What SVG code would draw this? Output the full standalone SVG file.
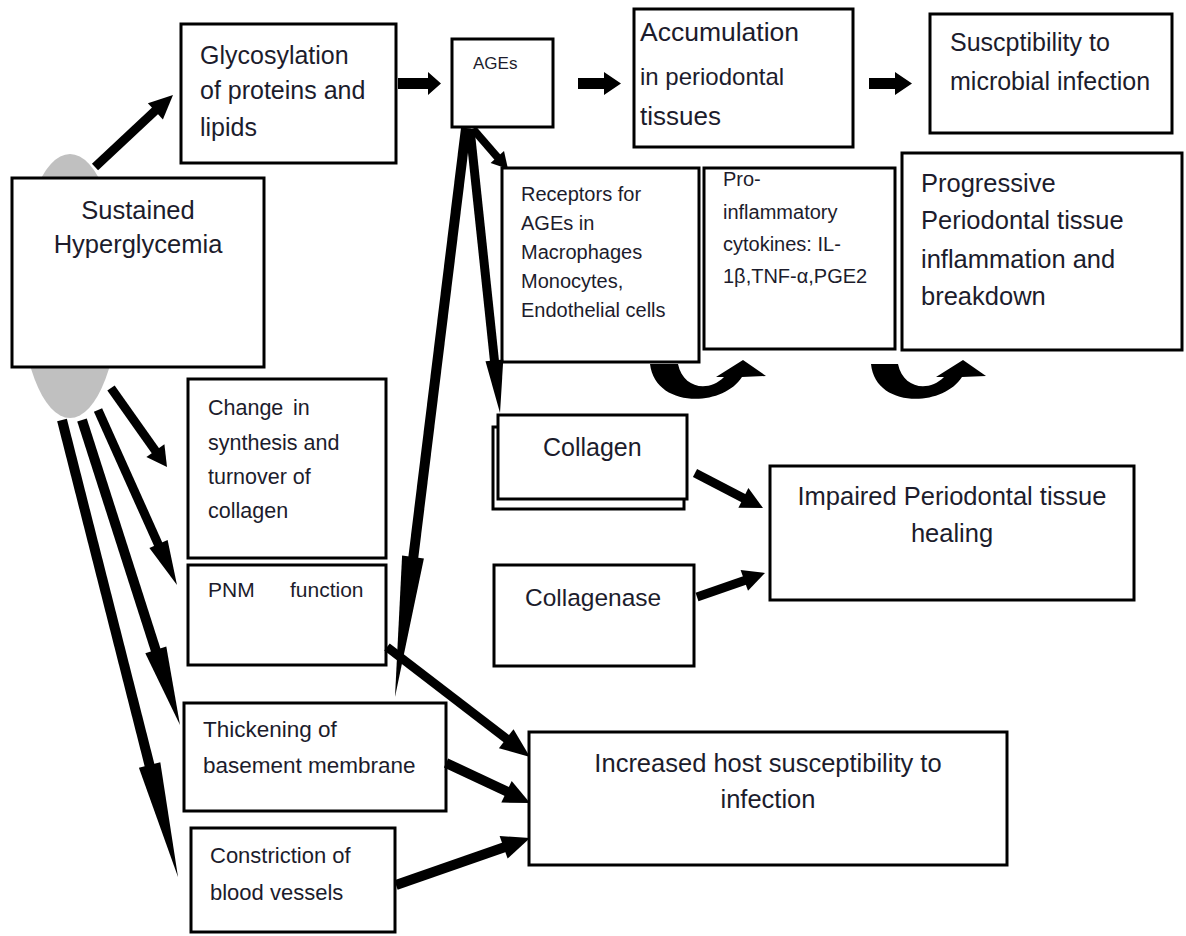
<svg xmlns="http://www.w3.org/2000/svg" width="1186" height="936" viewBox="0 0 1186 936">
<style>
.box{fill:#fff;stroke:#000;stroke-width:3}
.t{font-family:"Liberation Sans",Arial,sans-serif;fill:#1c1c2c}
.sh{stroke:#000;fill:none;stroke-linecap:butt}
.hd{fill:#000}
</style>
<rect width="1186" height="936" fill="#fff"/>
<g id="hyperglycemia">
<ellipse cx="70" cy="286" rx="50" ry="132" fill="#c0c0c0"/>
<rect class="box" x="12" y="178" width="252" height="189"/>
<text class="t" font-size="25.5" text-anchor="middle"><tspan x="138" y="219">Sustained</tspan><tspan x="138" y="253">Hyperglycemia</tspan></text>
</g>
<g id="glycosylation">
<rect class="box" x="181" y="24" width="215" height="139"/>
<text class="t" font-size="25"><tspan x="200" y="64">Glycosylation</tspan><tspan x="200" y="99">of proteins and</tspan><tspan x="200" y="136">lipids</tspan></text>
</g>
<g id="ages">
<rect class="box" x="452" y="39" width="101" height="88"/>
<text class="t" font-size="17" x="473" y="69">AGEs</text>
</g>
<g id="accumulation">
<rect class="box" x="634" y="9" width="219" height="138"/>
<text class="t"><tspan x="640" y="41" font-size="26.5">Accumulation</tspan><tspan x="640" y="85" font-size="24">in periodontal</tspan><tspan x="640" y="125" font-size="26">tissues</tspan></text>
</g>
<g id="susceptibility">
<rect class="box" x="930" y="14" width="242" height="119"/>
<text class="t" font-size="25"><tspan x="950" y="51">Suscptibility to</tspan><tspan x="950" y="90">microbial infection</tspan></text>
</g>
<g id="receptors">
<rect class="box" x="502" y="168" width="197" height="194"/>
<text class="t" font-size="20"><tspan x="521" y="201">Receptors for</tspan><tspan x="521" y="230">AGEs in</tspan><tspan x="521" y="259">Macrophages</tspan><tspan x="521" y="288">Monocytes,</tspan><tspan x="521" y="317">Endothelial cells</tspan></text>
</g>
<g id="cytokines">
<rect class="box" x="704" y="168" width="191" height="181"/>
<text class="t" font-size="20"><tspan x="723" y="186">Pro-</tspan><tspan x="723" y="219">inflammatory</tspan><tspan x="723" y="251">cytokines: IL-</tspan><tspan x="723" y="283">1β,TNF-α,PGE2</tspan></text>
</g>
<g id="progressive">
<rect class="box" x="902" y="153" width="280" height="197"/>
<text class="t" font-size="25.5"><tspan x="921" y="192">Progressive</tspan><tspan x="921" y="229">Periodontal tissue</tspan><tspan x="921" y="268">inflammation and</tspan><tspan x="921" y="305">breakdown</tspan></text>
</g>
<g id="change-collagen">
<rect class="box" x="188" y="379" width="198" height="179"/>
<text class="t" font-size="21.5"><tspan x="208" y="415">Change</tspan><tspan x="293" y="415">in</tspan><tspan x="208" y="450">synthesis and</tspan><tspan x="208" y="484">turnover of</tspan><tspan x="208" y="518">collagen</tspan></text>
</g>
<g id="pnm">
<rect class="box" x="188" y="565" width="198" height="100"/>
<text class="t" font-size="21" y="597"><tspan x="208">PNM</tspan><tspan x="290">function</tspan></text>
</g>
<g id="collagen">
<rect class="box" x="493" y="427" width="191" height="82"/>
<rect class="box" x="498" y="415" width="189" height="84"/>
<text class="t" font-size="25" x="543" y="456">Collagen</text>
</g>
<g id="collagenase">
<rect class="box" x="494" y="565" width="200" height="101"/>
<text class="t" font-size="24.5" x="525" y="606">Collagenase</text>
</g>
<g id="impaired">
<rect class="box" x="770" y="466" width="364" height="134"/>
<text class="t" font-size="25.5" text-anchor="middle"><tspan x="952" y="505">Impaired Periodontal tissue</tspan><tspan x="952" y="542">healing</tspan></text>
</g>
<g id="thickening">
<rect class="box" x="184" y="703" width="262" height="108"/>
<text class="t" font-size="22.5"><tspan x="203" y="737">Thickening of</tspan><tspan x="203" y="773">basement membrane</tspan></text>
</g>
<g id="constriction">
<rect class="box" x="191" y="828" width="204" height="104"/>
<text class="t" font-size="22"><tspan x="210" y="863">Constriction of</tspan><tspan x="210" y="900">blood vessels</tspan></text>
</g>
<g id="increased">
<rect class="box" x="529" y="732" width="478" height="133"/>
<text class="t" font-size="25.5" text-anchor="middle"><tspan x="768" y="772">Increased host susceptibility to</tspan><tspan x="768" y="808">infection</tspan></text>
</g>
<g id="connectors">
<path class="sh" stroke-width="9" d="M95 167 L157 109"/>
<polygon class="hd" points="162.9,119.4 173,95 147.9,103.2"/>
<polygon class="hd" points="398,78 428,78 428,72 441,83.5 428,95 428,89 398,89"/>
<polygon class="hd" points="578,78 604,78 604,72 621,83.5 604,95 604,89 578,89"/>
<polygon class="hd" points="869,78 895,78 895,72 912,83.5 895,95 895,89 869,89"/>
<path class="sh" stroke-width="8" d="M473 129 L499 159"/>
<polygon class="hd" points="490.6,163.1 508,169 504,151.1"/>
<path class="sh" stroke-width="9" d="M470 129 L494.6 362"/>
<polygon class="hd" points="485.5,361.2 500,413 503.3,359.4"/>
<path class="sh" stroke-width="10" d="M466 128 L413 560"/>
<polygon class="hd" points="402.1,555.6 395,697 423.9,558.4"/>
<path class="sh" stroke-width="9" d="M111 388 L157 453"/>
<polygon class="hd" points="146.4,457.1 167,467 164.4,444.3"/>
<path class="sh" stroke-width="9" d="M98 410 L159 546"/>
<polygon class="hd" points="149.4,548.1 177,585 167.6,539.9"/>
<path class="sh" stroke-width="10" d="M82 420 L156 651"/>
<polygon class="hd" points="145.3,653.2 180,725 166.3,646.4"/>
<path class="sh" stroke-width="10" d="M62 420 L150 767"/>
<polygon class="hd" points="138.9,767.7 178,877 160.3,762.3"/>
<path class="sh" stroke-width="9" d="M387 647 L508 740"/>
<polygon class="hd" points="498.9,748.2 530,757 513.5,729.2"/>
<path class="sh" stroke-width="10" d="M446 763 L508 792"/>
<polygon class="hd" points="501.3,802.6 530,803 511.7,781"/>
<path class="sh" stroke-width="10" d="M396 885 L505 847"/>
<polygon class="hd" points="507.6,858.6 530,838 499.6,836"/>
<path class="sh" stroke-width="9" d="M695 473 L745 499"/>
<polygon class="hd" points="738.4,507.7 763,508 748.4,488.1"/>
<path class="sh" stroke-width="9" d="M697 597 L746 580"/>
<polygon class="hd" points="748,590.7 765,573 740.6,569.9"/>
<path class="hd" d="M650 364 L678 364 C683 388 708 393 724 377 L716 377 L743 360 L766 376 L742 377 C722 408 655 408 650 364 Z"/>
<path class="hd" d="M871 364 L898 364 C903 388 928 393 944 377 L936 377 L963 360 L986 376 L962 377 C942 408 875 408 871 364 Z"/>
</g>
</svg>
